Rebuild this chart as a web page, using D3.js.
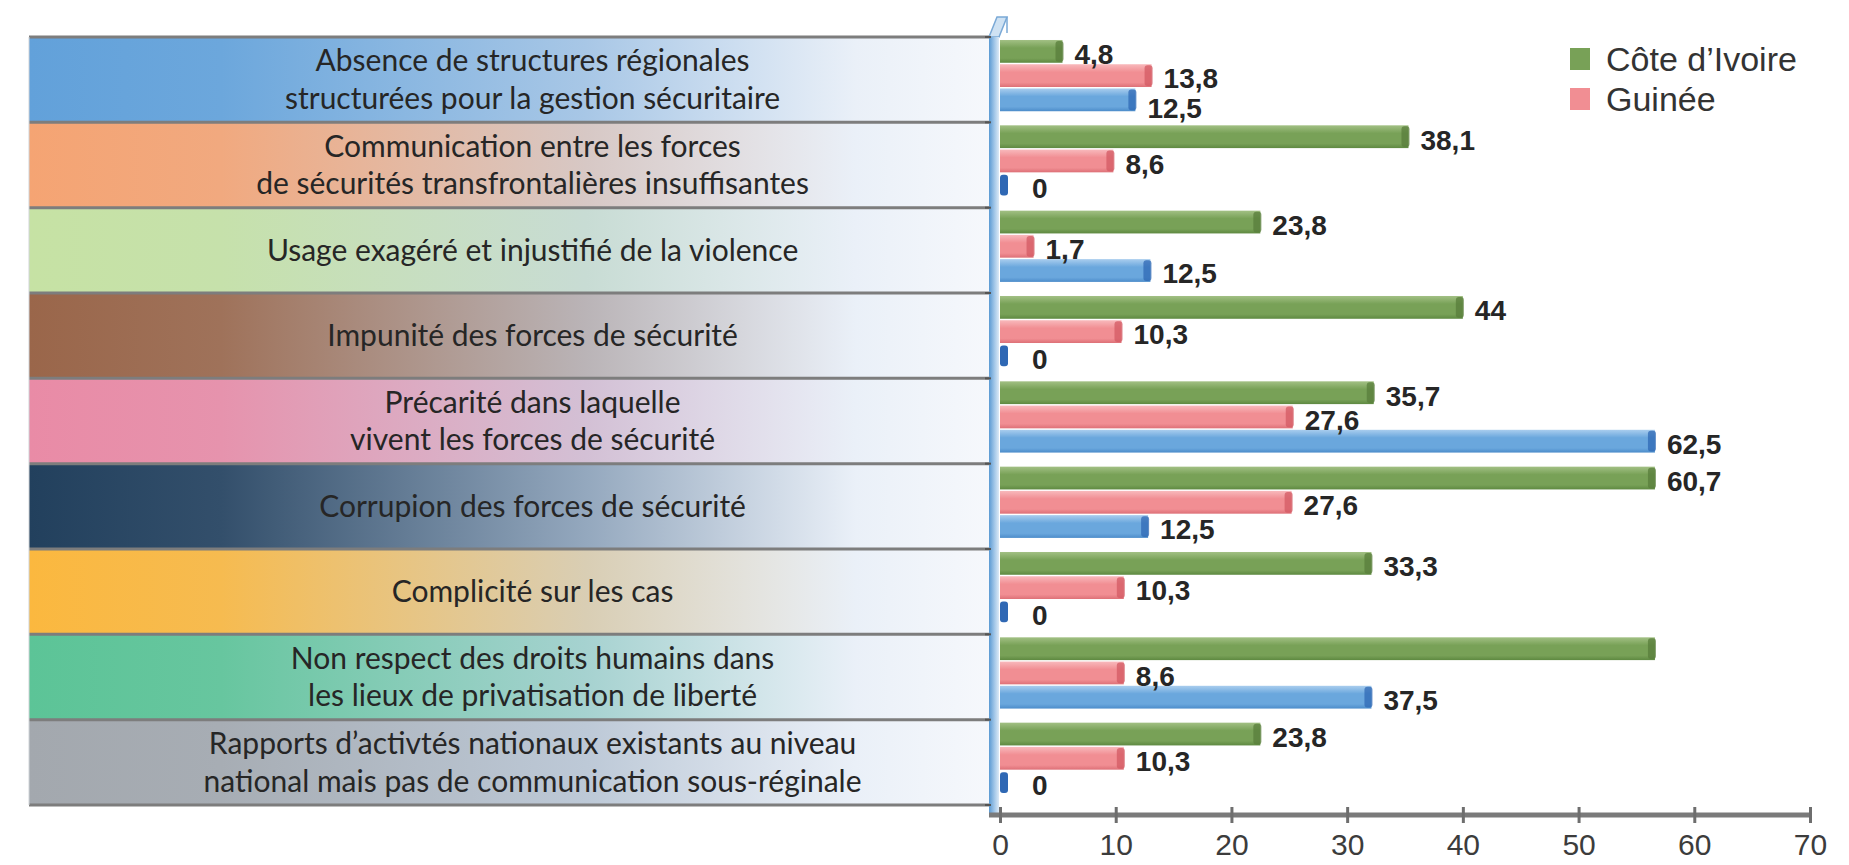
<!DOCTYPE html>
<html>
<head>
<meta charset="utf-8">
<script src="https://cdn.jsdelivr.net/npm/d3@7"></script>
<style>
  body { margin: 0; background: #fff; }
  svg { display: block; }
  .cat-label { font-family: Lato, "Open Sans", sans-serif; font-size: 30px; fill: #262626; }
  .val-label { font-family: "Liberation Sans", Arial, sans-serif; font-size: 28px; font-weight: bold; fill: #262626; }
  .x-axis text { font-family: "Liberation Sans", Arial, sans-serif; font-size: 30px; fill: #3c3c3c; }
  .legend text { font-family: "Liberation Sans", Arial, sans-serif; font-size: 34px; fill: #333; }
</style>
</head>
<body>
<div id="chart"></div>
<script>
// categories (top to bottom)
const categories = [
  "Absence de structures régionales\nstructurées pour la gestion sécuritaire",
  "Communication entre les forces\nde sécurités transfrontalières insuffisantes",
  "Usage exagéré et injustifié de la violence",
  "Impunité des forces de sécurité",
  "Précarité dans laquelle\nvivent les forces de sécurité",
  "Corrupion des forces de sécurité",
  "Complicité sur les cas",
  "Non respect des droits humains dans\nles lieux de privatisation de liberté",
  "Rapports d’activtés nationaux existants au niveau\nnational mais pas de communication sous-réginale"
];

// bar lengths
const coteIvoire = [5.4, 35.3, 22.5, 40.0, 32.3, 56.6, 32.1, 56.6, 22.5];
const guinee     = [13.1, 9.8, 2.9, 10.5, 25.3, 25.2, 10.7, 10.7, 10.7];
const third      = [11.7, 0, 13.0, 0, 56.6, 12.8, 0, 32.1, 0];

// the numbers printed next to the bars
const coteLabels   = ["4,8", "38,1", "23,8", "44", "35,7", "60,7", "33,3", "", "23,8"];
const guineeLabels = ["13,8", "8,6", "1,7", "10,3", "27,6", "27,6", "10,3", "8,6", "10,3"];
const thirdLabels  = ["12,5", "0", "12,5", "0", "62,5", "12,5", "0", "37,5", "0"];

const xTicks = [0, 10, 20, 30, 40, 50, 60, 70];
const legendNames = ["Côte d’Ivoire", "Guinée"];

const rowColors = ["#62a1da", "#f5a473", "#c6e2a4", "#9a664a", "#e98ba6", "#22405d", "#fbb83f", "#5cc497", "#a3a8ae"];

const series = [
  {values: coteIvoire, labels: coteLabels, top: "#a2c084", mid: "#78a157", bot: "#5e8941", cap: "#587d3b"},
  {values: guinee, labels: guineeLabels, top: "#f8b9bc", mid: "#f18e93", bot: "#dd7077", cap: "#d35a63"},
  {values: third, labels: thirdLabels, top: "#a9cdee", mid: "#6aa7dd", bot: "#4c8cca", cap: "#2f68b4"}
];

const width = 1849, height = 865,
  margin = ({top: 37, right: 39, bottom: 60, left: 1000});
const panel = {left: 29, right: 990};
const axisY = 815;

const svg = d3.select("#chart")
  .append("svg")
  .attr("width", width)
  .attr("height", height)
  .attr("viewBox", [0, 0, width, height]);

let x = d3.scaleLinear()
  .domain([0, 70])
  .range([margin.left, width - margin.right]);

let y = d3.scaleBand()
  .domain(d3.range(categories.length))
  .range([margin.top, 805]);

let ySub = d3.scaleBand()
  .domain([0, 1, 2])
  .range([y.bandwidth() * 0.035, y.bandwidth() * 0.87])
  .paddingInner(0.06);

const defs = svg.append("defs");

// row backgrounds: colour on the left fading to a pale blue-white
rowColors.forEach((c, i) => {
  const g = defs.append("linearGradient").attr("id", "row" + i)
    .attr("x1", 0).attr("x2", 1).attr("y1", 0).attr("y2", 0);
  g.append("stop").attr("offset", 0).attr("stop-color", c);
  g.append("stop").attr("offset", 0.2).attr("stop-color", d3.interpolateRgb(c, "#c9d9eb")(0.1));
  g.append("stop").attr("offset", 0.58).attr("stop-color", d3.interpolateRgb(c, "#c9d9eb")(0.68));
  g.append("stop").attr("offset", 0.86).attr("stop-color", "#eaf0f8");
  g.append("stop").attr("offset", 1).attr("stop-color", "#f6f8fc");
});

// bars: lighter top, darker bottom
series.forEach((s, k) => {
  const g = defs.append("linearGradient").attr("id", "bar" + k)
    .attr("x1", 0).attr("x2", 0).attr("y1", 0).attr("y2", 1);
  g.append("stop").attr("offset", 0).attr("stop-color", s.top);
  g.append("stop").attr("offset", 0.35).attr("stop-color", s.mid);
  g.append("stop").attr("offset", 0.8).attr("stop-color", s.mid);
  g.append("stop").attr("offset", 1).attr("stop-color", s.bot);
});

const wallGrad = defs.append("linearGradient").attr("id", "wall")
  .attr("x1", 0).attr("x2", 1).attr("y1", 0).attr("y2", 0);
wallGrad.append("stop").attr("offset", 0).attr("stop-color", "#5b9ad3");
wallGrad.append("stop").attr("offset", 0.6).attr("stop-color", "#a9cbea");
wallGrad.append("stop").attr("offset", 1).attr("stop-color", "#dbe9f6");

// category panel
svg.append("g")
  .selectAll("rect")
  .data(categories)
  .join("rect")
    .attr("x", panel.left)
    .attr("y", (d, i) => y(i))
    .attr("width", panel.right - panel.left)
    .attr("height", y.bandwidth())
    .attr("fill", (d, i) => `url(#row${i})`);

// separators between rows
const bounds = d3.range(categories.length + 1).map(i => i < categories.length ? y(i) : y(i - 1) + y.bandwidth());
svg.append("g")
  .selectAll("line")
  .data(bounds)
  .join("line")
    .attr("x1", panel.left)
    .attr("x2", x(0) - 8)
    .attr("y1", d => d)
    .attr("y2", d => d)
    .attr("stroke", "#7d7d7d")
    .attr("stroke-width", 3);

svg.append("line")
  .attr("x1", panel.left).attr("x2", panel.left)
  .attr("y1", bounds[0]).attr("y2", bounds[bounds.length - 1])
  .attr("stroke", "#d0d4d8").attr("stroke-width", 1);

const labelX = panel.left + (panel.right - panel.left) * 0.524;
const catText = svg.append("g")
  .selectAll("text")
  .data(categories)
  .join("text")
    .attr("class", "cat-label")
    .attr("text-anchor", "middle")
    .attr("x", labelX)
    .attr("y", (d, i) => y(i) + y.bandwidth() / 2);

catText.each(function(d) {
  const lines = d.split("\n");
  d3.select(this).selectAll("tspan")
    .data(lines)
    .join("tspan")
      .attr("x", labelX)
      .attr("dy", (l, k) => k === 0 ? `${0.35 - (lines.length - 1) * 0.63}em` : "1.26em")
      .text(l => l);
});

// 3D wall on the left of the bars
const wx = x(0);
svg.append("polygon")
  .attr("points", [[wx - 11, margin.top], [wx - 1, margin.top], [wx + 7, margin.top - 20], [wx - 3, margin.top - 20]].join(" "))
  .attr("fill", "#cfe2f3")
  .attr("stroke", "#7aa9d6")
  .attr("stroke-width", 1.5);
svg.append("rect")
  .attr("x", wx - 11)
  .attr("y", margin.top)
  .attr("width", 10)
  .attr("height", axisY - margin.top)
  .attr("fill", "url(#wall)");
svg.append("line")
  .attr("x1", wx + 7).attr("x2", wx + 7)
  .attr("y1", margin.top - 20).attr("y2", margin.top - 4)
  .attr("stroke", "#7aa9d6").attr("stroke-width", 1.5);

// small marks on the wall at the row boundaries
svg.append("g")
  .selectAll("line")
  .data(bounds)
  .join("line")
    .attr("x1", wx - 15).attr("x2", wx - 9)
    .attr("y1", d => d).attr("y2", d => d)
    .attr("stroke", "#555").attr("stroke-width", 2);

// bars
series.forEach((s, k) => {
  const g = svg.append("g");
  g.selectAll("rect.bar")
    .data(s.values)
    .join("rect")
      .attr("class", "bar")
      .attr("x", x(0))
      .attr("y", (d, i) => y(i) + ySub(k))
      .attr("width", d => x(d) - x(0))
      .attr("height", ySub.bandwidth())
      .attr("fill", `url(#bar${k})`);
  // rounded darker end of each bar
  g.selectAll("rect.cap")
    .data(s.values)
    .join("rect")
      .attr("class", "cap")
      .attr("x", d => Math.max(x(d) - 7, x(0)))
      .attr("y", (d, i) => y(i) + ySub(k) + 1)
      .attr("width", 8)
      .attr("height", ySub.bandwidth() - 2)
      .attr("rx", 3)
      .attr("fill", s.cap)
      .attr("opacity", d => d === 0 ? 1 : 0.75);
});

// value labels, drawn after all bars; a label that would run into the
// one above it is pushed down, as in the original
const labelGroup = svg.append("g");
categories.forEach((c, i) => {
  let prev = null;
  series.forEach((s, k) => {
    const t = s.labels[i];
    if (!t) return;
    const lx = Math.max(x(s.values[i]), x(0) + 20) + 12;
    let ly = y(i) + ySub(k) + ySub.bandwidth() / 2 + 3;
    const node = labelGroup.append("text")
      .attr("class", "val-label")
      .attr("x", lx)
      .attr("dy", "0.35em")
      .text(t);
    const w = node.node().getComputedTextLength();
    if (prev && lx < prev.x + prev.w && lx + w > prev.x && ly - prev.y < 30) {
      ly = prev.y + 30;
    }
    node.attr("y", ly);
    prev = {x: lx, y: ly, w: w};
  });
});

// x axis floor
svg.append("line")
  .attr("x1", wx - 11)
  .attr("x2", x(70))
  .attr("y1", axisY)
  .attr("y2", axisY)
  .attr("stroke", "#7a7a7a")
  .attr("stroke-width", 5);

const xAxis = svg.append("g")
  .attr("class", "x-axis")
  .attr("transform", `translate(0,${axisY - 8})`)
  .call(d3.axisBottom(x).tickValues(xTicks).tickSizeInner(16).tickSizeOuter(0).tickPadding(11).tickFormat(d3.format("d")));
xAxis.select(".domain").remove();
xAxis.selectAll(".tick line").attr("stroke", "#6e6e6e").attr("stroke-width", 3);

// legend (only two entries in the original)
const legend = svg.append("g").attr("class", "legend");
const legendColors = [series[0].mid, series[1].mid];
legendNames.forEach((n, i) => {
  legend.append("rect")
    .attr("x", 1570)
    .attr("y", 48 + i * 40)
    .attr("width", 20)
    .attr("height", 22)
    .attr("fill", legendColors[i]);
  legend.append("text")
    .attr("x", 1606)
    .attr("y", 71 + i * 40)
    .text(n);
});
</script>
</body>
</html>
